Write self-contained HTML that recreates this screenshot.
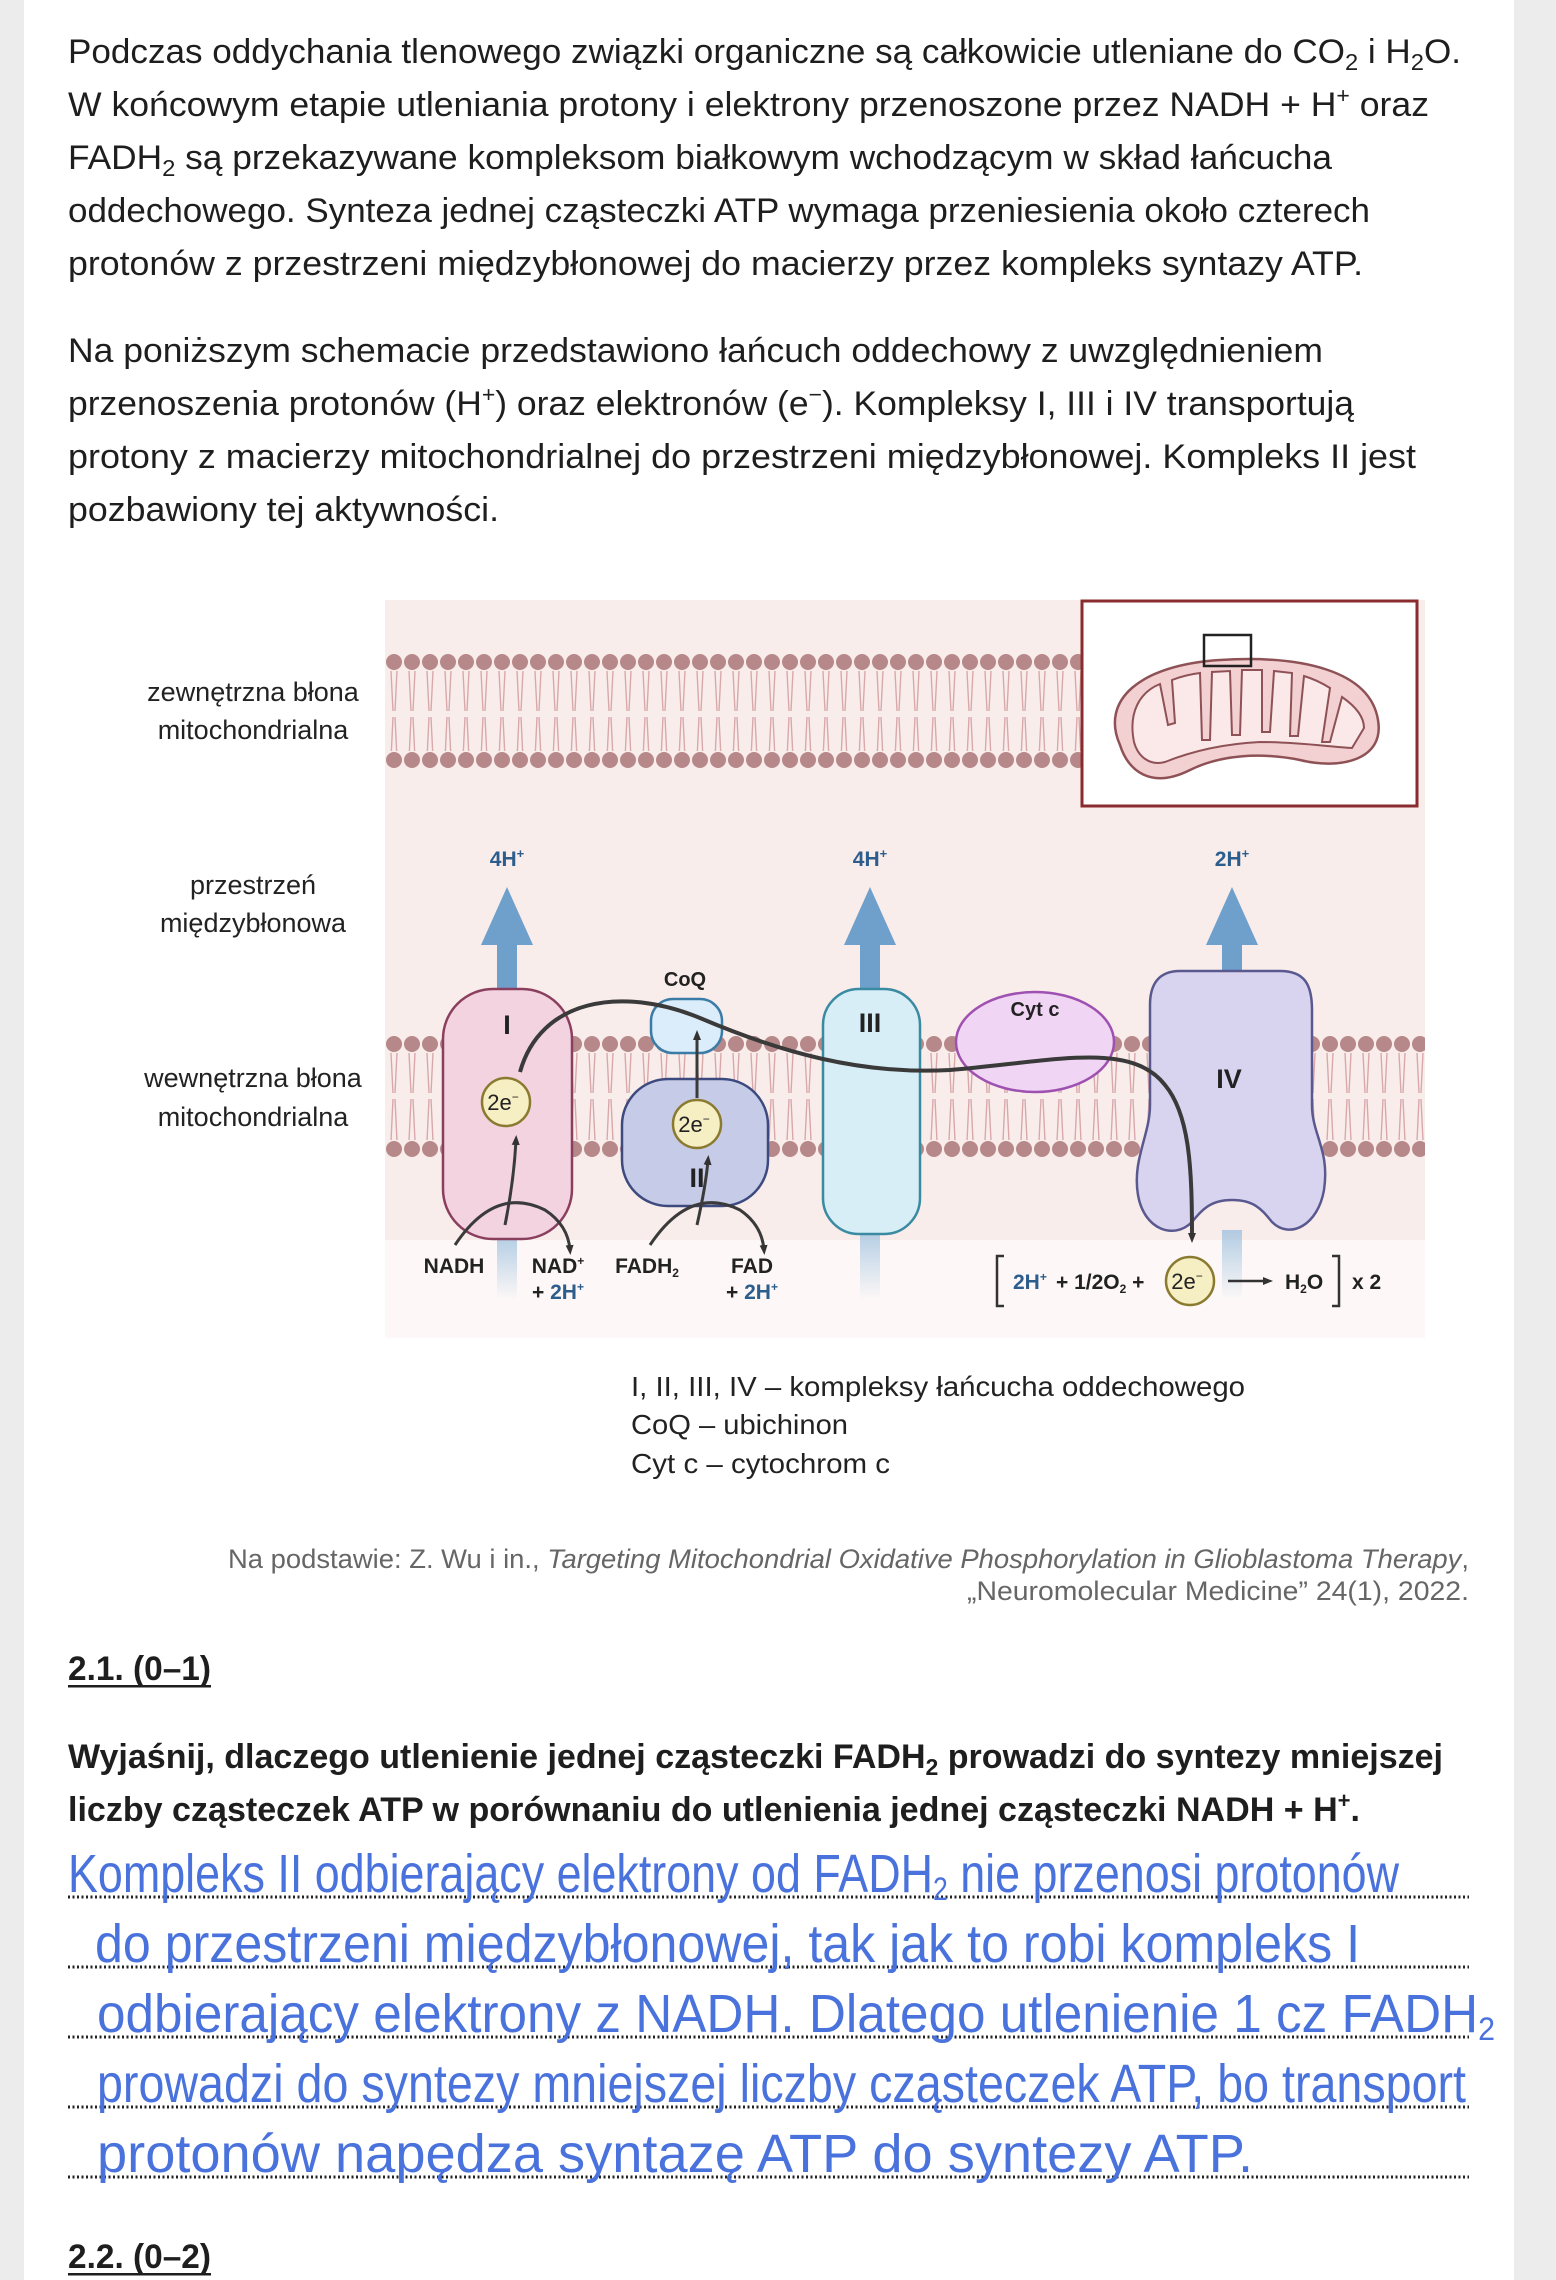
<!DOCTYPE html>
<html><head><meta charset="utf-8"><style>
html,body{margin:0;padding:0;background:#ececec;}
svg{display:block}
.p{font-family:"Liberation Sans",sans-serif;font-size:34px;fill:#1e1e1e}
.b{font-weight:bold}
.d{font-family:"Liberation Sans",sans-serif;fill:#222}
.hw{font-family:"Liberation Sans Narrow","Liberation Sans",sans-serif;font-size:54px;fill:#4a72dc;font-weight:normal}
</style></head><body>
<svg width="1556" height="2280" viewBox="0 0 1556 2280" xmlns="http://www.w3.org/2000/svg">
<defs>
<pattern id="hd2" x="0" y="0" width="18" height="18" patternUnits="userSpaceOnUse"><circle cx="9" cy="9" r="8" fill="#b78889"/></pattern>
<pattern id="tl2" x="0" y="0" width="18" height="200" patternUnits="userSpaceOnUse"><path d="M6,0 L8,40 M12,0 L10,40 M8,46 L6,88 M10,46 L12,88" stroke="#d8a8aa" stroke-width="1.4" fill="none"/></pattern>
<linearGradient id="fade" x1="0" y1="0" x2="0" y2="1"><stop offset="0" stop-color="#9fc2df" stop-opacity="0.8"/><stop offset="1" stop-color="#9fc2df" stop-opacity="0"/></linearGradient>
<marker id="ah" markerWidth="10" markerHeight="10" refX="5" refY="5" orient="auto" markerUnits="userSpaceOnUse" viewBox="0 0 10 10"><path d="M0,1 L10,5 L0,9 z" fill="#333"/></marker>
</defs>
<rect x="0" y="0" width="1556" height="2280" fill="#ececec"/>
<rect x="24" y="0" width="1490" height="2280" fill="#fff"/>

<text class="p" x="68" y="63" textLength="1393" lengthAdjust="spacingAndGlyphs">Podczas oddychania tlenowego związki organiczne są całkowicie utleniane do CO<tspan font-size="23" dy="7">2</tspan><tspan dy="-7"> i H</tspan><tspan font-size="23" dy="7">2</tspan><tspan dy="-7">O.</tspan></text>
<text class="p" x="68" y="116" textLength="1361" lengthAdjust="spacingAndGlyphs">W końcowym etapie utleniania protony i elektrony przenoszone przez NADH + H<tspan font-size="22" dy="-13">+</tspan><tspan dy="13"> oraz</tspan></text>
<text class="p" x="68" y="169" textLength="1264" lengthAdjust="spacingAndGlyphs">FADH<tspan font-size="23" dy="7">2</tspan><tspan dy="-7"> są przekazywane kompleksom białkowym wchodzącym w skład łańcucha</tspan></text>
<text class="p" x="68" y="222" textLength="1302" lengthAdjust="spacingAndGlyphs">oddechowego. Synteza jednej cząsteczki ATP wymaga przeniesienia około czterech</text>
<text class="p" x="68" y="275" textLength="1295" lengthAdjust="spacingAndGlyphs">protonów z przestrzeni międzybłonowej do macierzy przez kompleks syntazy ATP.</text>
<text class="p" x="68" y="362" textLength="1255" lengthAdjust="spacingAndGlyphs">Na poniższym schemacie przedstawiono łańcuch oddechowy z uwzględnieniem</text>
<text class="p" x="68" y="415" textLength="1286" lengthAdjust="spacingAndGlyphs">przenoszenia protonów (H<tspan font-size="22" dy="-13">+</tspan><tspan dy="13">) oraz elektronów (e</tspan><tspan font-size="22" dy="-13">−</tspan><tspan dy="13">). Kompleksy I, III i IV transportują</tspan></text>
<text class="p" x="68" y="468" textLength="1348" lengthAdjust="spacingAndGlyphs">protony z macierzy mitochondrialnej do przestrzeni międzybłonowej. Kompleks II jest</text>
<text class="p" x="68" y="521" textLength="431" lengthAdjust="spacingAndGlyphs">pozbawiony tej aktywności.</text>

<rect x="385" y="600" width="1040" height="738" fill="#f9edeb"/>
<rect x="385" y="1240" width="1040" height="98" fill="#fdf8f7"/>
<svg x="385" y="653" width="698" height="18"><rect width="698" height="18" fill="url(#hd2)"/></svg>
<svg x="385" y="671" width="698" height="80"><rect width="698" height="80" fill="url(#tl2)"/></svg>
<svg x="385" y="751" width="698" height="18"><rect width="698" height="18" fill="url(#hd2)"/></svg>
<svg x="385" y="1035" width="1040" height="18"><rect width="1040" height="18" fill="url(#hd2)"/></svg>
<svg x="385" y="1053" width="1040" height="87"><rect width="1040" height="87" fill="url(#tl2)"/></svg>
<svg x="385" y="1140" width="1040" height="18"><rect width="1040" height="18" fill="url(#hd2)"/></svg>

<rect x="1082" y="601" width="335" height="205" fill="#fff" stroke="#8a2b2e" stroke-width="3"/>
<path d="M1120,745 C1100,700 1140,665 1220,660 C1300,655 1370,670 1378,720 C1385,760 1340,770 1300,760 C1260,752 1220,755 1190,770 C1150,790 1128,770 1120,745 Z" fill="#f3d0d2" stroke="#8e5256" stroke-width="2.5"/>
<path d="M1134,742 C1128,712 1140,692 1160,684 L1168,725 L1175,723 L1172,680 C1182,676 1192,674 1200,673 L1202,740 L1210,740 L1212,672 L1230,671 L1232,735 L1240,735 L1242,670 L1262,670 L1262,732 L1270,732 L1274,671 L1292,673 L1290,736 L1298,736 L1304,676 C1314,679 1322,683 1330,688 L1322,742 L1330,742 L1342,697 C1355,706 1364,716 1364,728 L1352,748 C1330,747 1300,742 1260,742 C1220,744 1190,752 1165,762 C1150,766 1138,757 1134,742 Z" fill="#fbe9e9" stroke="#8e5256" stroke-width="2"/>
<rect x="1204" y="635" width="47" height="31" fill="none" stroke="#222" stroke-width="2.5"/>

<rect x="497" y="1235" width="20" height="65" fill="url(#fade)"/>
<rect x="860" y="1230" width="20" height="70" fill="url(#fade)"/>
<rect x="1222" y="1230" width="20" height="70" fill="url(#fade)"/>

<g fill="#6f9fcb">
<rect x="497" y="940" width="20" height="55"/><path d="M481,945 L507,887 L533,945 Z"/>
<rect x="860" y="940" width="20" height="55"/><path d="M844,945 L870,887 L896,945 Z"/>
<rect x="1222" y="940" width="20" height="40"/><path d="M1206,945 L1232,887 L1258,945 Z"/>
</g>
<g class="d" font-size="21" font-weight="bold" text-anchor="middle">
<text x="507" y="866" fill="#2c5d8c">4H<tspan font-size="13" dy="-8">+</tspan></text>
<text x="870" y="866" fill="#2c5d8c">4H<tspan font-size="13" dy="-8">+</tspan></text>
<text x="1232" y="866" fill="#2c5d8c">2H<tspan font-size="13" dy="-8">+</tspan></text>
</g>

<rect x="443" y="989" width="129" height="250" rx="50" fill="#f2d3df" stroke="#8b3f5e" stroke-width="2.5"/>
<rect x="622" y="1079" width="146" height="127" rx="46" fill="#c6cce7" stroke="#3d4a7f" stroke-width="2.5"/>
<rect x="651" y="999" width="71" height="54" rx="22" fill="#dbedfa" stroke="#3b7ca7" stroke-width="2.5"/>
<rect x="823" y="989" width="97" height="245" rx="36" fill="#d7eef6" stroke="#3a8aa2" stroke-width="2.5"/>
<ellipse cx="1035" cy="1042" rx="79" ry="50" fill="#f0d6f4" stroke="#9f51b2" stroke-width="2.5"/>
<path d="M1180,971 L1280,971 C1305,971 1312,985 1312,1010 L1312,1105 C1312,1135 1330,1150 1324,1190 C1318,1225 1290,1240 1272,1222 C1262,1210 1255,1200 1232,1200 C1210,1200 1202,1210 1192,1222 C1174,1240 1144,1230 1138,1195 C1132,1160 1150,1135 1150,1105 L1150,1005 C1150,985 1158,971 1180,971 Z" fill="#d8d4ef" stroke="#59598f" stroke-width="2.5"/>

<g class="d" font-weight="bold" text-anchor="middle">
<text x="507" y="1034" font-size="27">I</text>
<text x="697" y="1187" font-size="27">II</text>
<text x="870" y="1032" font-size="27">III</text>
<text x="1229" y="1088" font-size="27">IV</text>
<text x="685" y="986" font-size="20">CoQ</text>
<text x="1035" y="1016" font-size="20">Cyt c</text>
</g>

<g fill="#f7efc4" stroke="#8a7a30" stroke-width="2.5">
<circle cx="506" cy="1102" r="24"/><circle cx="697" cy="1124" r="24"/><circle cx="1190" cy="1281" r="24"/>
</g>
<g class="d" font-size="22" text-anchor="middle">
<text x="503" y="1110">2e<tspan font-size="12" dy="-9">−</tspan></text>
<text x="694" y="1132">2e<tspan font-size="12" dy="-9">−</tspan></text>
<text x="1187" y="1289">2e<tspan font-size="12" dy="-9">−</tspan></text>
</g>

<path d="M520,1072 C540,1000 620,985 700,1018 C780,1052 860,1075 950,1070 C1050,1062 1130,1040 1165,1085 C1190,1115 1192,1170 1192,1238" fill="none" stroke="#3a3a3a" stroke-width="4" marker-end="url(#ah)"/>
<path d="M697,1098 L697,1035" fill="none" stroke="#3a3a3a" stroke-width="3" marker-end="url(#ah)"/>
<path d="M505,1225 Q514,1180 516,1140" fill="none" stroke="#3a3a3a" stroke-width="3" marker-end="url(#ah)"/>
<path d="M455,1245 Q495,1185 545,1210 Q568,1225 570,1250" fill="none" stroke="#3a3a3a" stroke-width="3" marker-end="url(#ah)"/>
<path d="M697,1225 Q706,1185 708,1160" fill="none" stroke="#3a3a3a" stroke-width="3" marker-end="url(#ah)"/>
<path d="M650,1245 Q690,1185 740,1210 Q762,1225 764,1250" fill="none" stroke="#3a3a3a" stroke-width="3" marker-end="url(#ah)"/>

<g class="d" font-size="21" font-weight="bold" text-anchor="middle">
<text x="454" y="1273">NADH</text>
<text x="558" y="1273">NAD<tspan font-size="12" dy="-8">+</tspan></text>
<text x="558" y="1299">+ <tspan fill="#2c5d8c">2H<tspan font-size="12" dy="-8">+</tspan></tspan></text>
<text x="647" y="1273">FADH<tspan font-size="12" dy="4">2</tspan></text>
<text x="752" y="1273">FAD</text>
<text x="752" y="1299">+ <tspan fill="#2c5d8c">2H<tspan font-size="12" dy="-8">+</tspan></tspan></text>
</g>
<path d="M1004,1256 L997,1256 L997,1306 L1004,1306" fill="none" stroke="#333" stroke-width="2.5"/>
<path d="M1332,1256 L1339,1256 L1339,1306 L1332,1306" fill="none" stroke="#333" stroke-width="2.5"/>
<g class="d" font-size="21" font-weight="bold">
<text x="1013" y="1289" fill="#2c5d8c">2H<tspan font-size="12" dy="-8">+</tspan></text>
<text x="1056" y="1289">+ 1/2O<tspan font-size="12" dy="4">2</tspan><tspan dy="-4"> +</tspan></text>
<text x="1285" y="1289">H<tspan font-size="12" dy="4">2</tspan><tspan dy="-4">O</tspan></text>
<text x="1352" y="1289">x 2</text>
</g>
<path d="M1228,1281 L1268,1281" stroke="#333" stroke-width="2.5" marker-end="url(#ah)"/>

<g class="d" font-size="27" text-anchor="middle" fill="#2a2a2a">
<text x="253" y="701">zewnętrzna błona</text>
<text x="253" y="739">mitochondrialna</text>
<text x="253" y="894">przestrzeń</text>
<text x="253" y="932">międzybłonowa</text>
<text x="253" y="1087">wewnętrzna błona</text>
<text x="253" y="1126">mitochondrialna</text>
</g>

<g class="d" font-size="28">
<text x="631" y="1396" textLength="614" lengthAdjust="spacingAndGlyphs">I, II, III, IV – kompleksy łańcucha oddechowego</text>
<text x="631" y="1434" textLength="217" lengthAdjust="spacingAndGlyphs">CoQ – ubichinon</text>
<text x="631" y="1473" textLength="259" lengthAdjust="spacingAndGlyphs">Cyt c – cytochrom c</text>
</g>
<g class="d" font-size="27">
<text x="228" y="1568" textLength="1241" lengthAdjust="spacingAndGlyphs" fill="#666">Na podstawie: Z. Wu i in., <tspan font-style="italic">Targeting Mitochondrial Oxidative Phosphorylation in Glioblastoma Therapy</tspan>,</text>
<text x="967" y="1600" textLength="502" lengthAdjust="spacingAndGlyphs" fill="#666">„Neuromolecular Medicine” 24(1), 2022.</text>
</g>

<text class="p b" x="68" y="1680" textLength="143" lengthAdjust="spacingAndGlyphs">2.1. (0–1)</text>
<rect x="68" y="1685" width="143" height="2.5" fill="#1e1e1e"/>
<text class="p b" x="68" y="1768" textLength="1375" lengthAdjust="spacingAndGlyphs">Wyjaśnij, dlaczego utlenienie jednej cząsteczki FADH<tspan font-size="23" dy="7">2</tspan><tspan dy="-7"> prowadzi do syntezy mniejszej</tspan></text>
<text class="p b" x="68" y="1821" textLength="1292" lengthAdjust="spacingAndGlyphs">liczby cząsteczek ATP w porównaniu do utlenienia jednej cząsteczki NADH + H<tspan font-size="22" dy="-13">+</tspan><tspan dy="13">.</tspan></text>

<g stroke="#222" stroke-width="3" stroke-dasharray="2,2.5">
<line x1="68" y1="1897" x2="1469" y2="1897"/>
<line x1="68" y1="1967" x2="1469" y2="1967"/>
<line x1="68" y1="2037" x2="1469" y2="2037"/>
<line x1="68" y1="2107" x2="1469" y2="2107"/>
<line x1="68" y1="2177" x2="1469" y2="2177"/>
</g>
<text class="hw" x="68" y="1892" textLength="1331" lengthAdjust="spacingAndGlyphs">Kompleks II odbierający elektrony od FADH<tspan font-size="32" dy="8">2</tspan><tspan dy="-8"> nie przenosi protonów</tspan></text>
<text class="hw" x="95" y="1962" textLength="1265" lengthAdjust="spacingAndGlyphs">do przestrzeni międzybłonowej, tak jak to robi kompleks I</text>
<text class="hw" x="97" y="2032" textLength="1398" lengthAdjust="spacingAndGlyphs">odbierający elektrony z NADH. Dlatego utlenienie 1 cz FADH<tspan font-size="32" dy="8">2</tspan></text>
<text class="hw" x="97" y="2102" textLength="1369" lengthAdjust="spacingAndGlyphs">prowadzi do syntezy mniejszej liczby cząsteczek ATP, bo transport</text>
<text class="hw" x="97" y="2172" textLength="1156" lengthAdjust="spacingAndGlyphs">protonów napędza syntazę ATP do syntezy ATP.</text>

<text class="p b" x="68" y="2268" textLength="143" lengthAdjust="spacingAndGlyphs">2.2. (0–2)</text>
<rect x="68" y="2273" width="143" height="2.5" fill="#1e1e1e"/>
</svg>
</body></html>
